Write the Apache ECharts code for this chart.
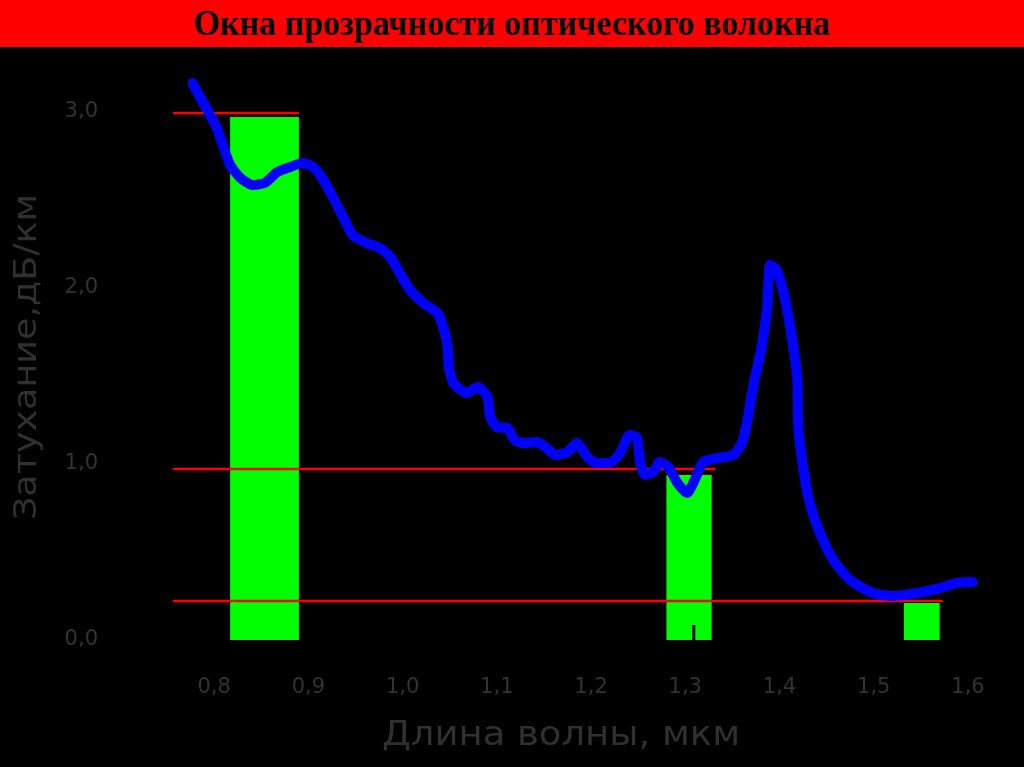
<!DOCTYPE html>
<html>
<head>
<meta charset="utf-8">
<script src="https://cdn.jsdelivr.net/npm/echarts@6/dist/echarts.min.js"></script>
<style>html,body{margin:0;padding:0;background:#000;}#c{width:1024px;height:767px;}</style>
</head>
<body>
<div id="c"></div>
<script>
// ---- data ----
const titleText = 'Окна прозрачности оптического волокна';
const xAxisTitle = 'Длина волны, мкм';
const yAxisTitle = 'Затухание,дБ/км';
const xTickValues = [0.8, 0.9, 1.0, 1.1, 1.2, 1.3, 1.4, 1.5, 1.6];
const xTickLabels = ['0,8', '0,9', '1,0', '1,1', '1,2', '1,3', '1,4', '1,5', '1,6'];
const yTickValues = [0, 1, 2, 3];
const yTickLabels = ['0,0', '1,0', '2,0', '3,0'];

// attenuation curve: [wavelength µm, dB/km]
const attenuation = [
  [0.777, 3.165], [0.785, 3.085], [0.794, 3.000], [0.803, 2.909], [0.810, 2.801],
  [0.817, 2.699], [0.828, 2.625], [0.841, 2.585], [0.854, 2.597], [0.867, 2.659],
  [0.881, 2.688], [0.894, 2.710], [0.905, 2.688], [0.916, 2.614], [0.926, 2.517],
  [0.937, 2.403], [0.947, 2.301], [0.962, 2.256], [0.976, 2.227], [0.987, 2.176],
  [0.997, 2.085], [1.008, 1.989], [1.022, 1.915], [1.037, 1.858], [1.043, 1.778],
  [1.048, 1.665], [1.049, 1.551], [1.054, 1.460], [1.068, 1.403], [1.080, 1.438],
  [1.090, 1.381], [1.093, 1.267], [1.100, 1.210], [1.111, 1.205], [1.119, 1.136],
  [1.128, 1.119], [1.143, 1.125], [1.153, 1.091], [1.162, 1.051], [1.175, 1.068],
  [1.185, 1.119], [1.196, 1.040], [1.206, 1.006], [1.220, 1.006], [1.231, 1.063],
  [1.241, 1.165], [1.249, 1.148], [1.252, 1.011], [1.257, 0.938], [1.266, 0.955],
  [1.273, 1.011], [1.282, 0.983], [1.291, 0.898], [1.302, 0.835], [1.310, 0.909],
  [1.319, 1.011], [1.334, 1.034], [1.351, 1.051], [1.360, 1.119], [1.366, 1.250],
  [1.372, 1.438], [1.381, 1.665], [1.387, 1.892], [1.390, 2.131], [1.397, 2.102],
  [1.406, 1.932], [1.414, 1.688], [1.419, 1.477], [1.420, 1.210], [1.425, 0.983],
  [1.432, 0.778], [1.443, 0.608], [1.457, 0.455], [1.475, 0.341], [1.499, 0.267],
  [1.520, 0.250], [1.546, 0.267], [1.570, 0.295], [1.588, 0.324], [1.605, 0.330]
];

// transparency windows: [from µm, to µm, height dB/km]
const windows = [
  [0.817, 0.890, 2.972],
  [1.280, 1.328, 0.938],
  [1.532, 1.570, 0.210]
];

// reference levels: [from µm, to µm, level dB/km]
const levels = [
  [0.7565, 0.890, 2.994],
  [0.7565, 1.332, 0.972],
  [0.7565, 1.573, 0.222]
];

// small mark at 1.3 µm
const markAt = [[1.309, 0], [1.309, 0.085]];

// ---- chart ----
const chart = echarts.init(document.getElementById('c'), null, {renderer: 'canvas'});
const axisFont = {color: '#333333', fontSize: 21, fontFamily: 'DejaVu Sans'};

const series = [
  {
    type: 'custom',
    name: 'windows',
    data: windows,
    encode: {x: [0, 1], y: 2},
    z: 1,
    renderItem: function (params, api) {
      const p0 = api.coord([api.value(0), api.value(2)]);
      const p1 = api.coord([api.value(1), 0]);
      return {
        type: 'rect',
        shape: {x: p0[0], y: p0[1], width: p1[0] - p0[0], height: p1[1] - p0[1]},
        style: {fill: '#00ff00'}
      };
    }
  },
  {
    type: 'line', data: markAt, symbol: 'none', z: 2, silent: true,
    lineStyle: {color: '#000000', width: 3}
  }
];
levels.forEach(function (l) {
  series.push({
    type: 'line', data: [[l[0], l[2]], [l[1], l[2]]], symbol: 'none', z: 3, silent: true,
    lineStyle: {color: '#ff0000', width: 2.5}
  });
});
series.push({
  type: 'line', name: 'attenuation', data: attenuation, symbol: 'none', smooth: 0.2, z: 5,
  lineStyle: {color: '#0000ff', width: 10, cap: 'round', join: 'round'}
});

chart.setOption({
  animation: false,
  backgroundColor: '#000000',
  grid: {left: 167, right: 46.6, top: 68, bottom: 127},
  xAxis: {
    type: 'value', min: 0.75, max: 1.61,
    axisLine: {show: false}, axisTick: {show: false}, splitLine: {show: false},
    axisLabel: Object.assign({
      customValues: xTickValues, margin: 37,
      formatter: function (v) { const i = xTickValues.findIndex(function (t) { return Math.abs(t - v) < 1e-6; }); return i >= 0 ? xTickLabels[i] : ''; }
    }, axisFont)
  },
  yAxis: {
    type: 'value', min: 0, max: 3.25,
    axisLine: {show: false}, axisTick: {show: false}, splitLine: {show: false},
    axisLabel: Object.assign({
      customValues: yTickValues, margin: 69,
      formatter: function (v) { const i = yTickValues.findIndex(function (t) { return Math.abs(t - v) < 1e-6; }); return i >= 0 ? yTickLabels[i] : ''; }
    }, axisFont)
  },
  graphic: [
    {type: 'rect', left: 0, top: 0, shape: {width: 1024, height: 47}, style: {fill: '#ff0000'}, z: 10},
    {type: 'text', x: 512, y: 26, scaleX: 0.945, z: 11,
      style: {text: titleText, fill: '#000000', font: 'bold 36px "Liberation Serif"', align: 'center', verticalAlign: 'middle'}},
    {type: 'text', x: 561, y: 736, scaleX: 1.12, z: 11,
      style: {text: xAxisTitle, fill: '#303030', font: '33px "DejaVu Sans"', align: 'center', verticalAlign: 'middle'}},
    {type: 'text', x: 28, y: 357, rotation: Math.PI / 2, scaleX: 1.14, z: 11,
      style: {text: yAxisTitle, fill: '#303030', font: '32px "DejaVu Sans"', align: 'center', verticalAlign: 'middle'}}
  ],
  series: series
});
</script>
</body>
</html>
